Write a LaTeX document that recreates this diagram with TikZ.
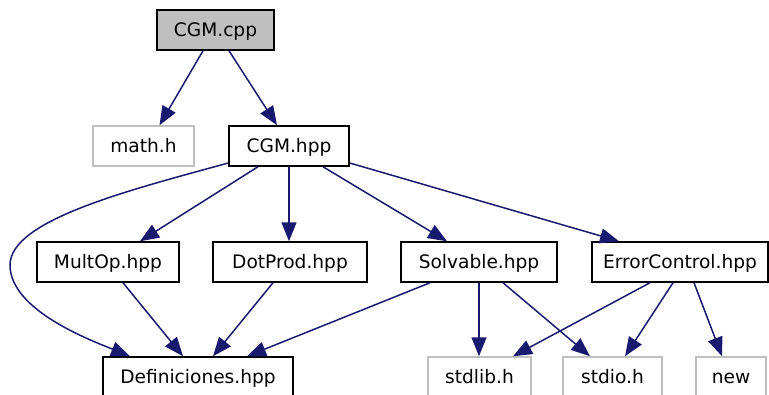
\documentclass[tikz,border=0pt]{standalone}
\usepackage{fontspec}
\setmainfont{DejaVu Sans}
\usetikzlibrary{arrows.meta}
\definecolor{edgeblue}{HTML}{191970}
\definecolor{extgray}{HTML}{BFBFBF}
\begin{document}
\begin{tikzpicture}[x=1pt,y=-1pt,
  file/.style={draw=black,line width=1.5pt,fill=white,minimum height=40pt,inner sep=0pt,
    text height=13.5pt,text depth=0pt,font=\fontsize{18.6}{22}\selectfont},
  mainfile/.style={file,fill=extgray},
  extfile/.style={file,draw=extgray},
  dep/.style={draw=edgeblue,line width=1.5pt,-{Triangle[length=19pt,width=15pt]}}]
\useasboundingbox (0,0) rectangle (769,394);

% files
\node[mainfile,minimum width=117pt] (cpp) at (215.5,30) {CGM.cpp};
\node[extfile,minimum width=101pt] (math) at (143.5,146) {math.h};
\node[file,minimum width=120pt] (hpp) at (289,146) {CGM.hpp};
\node[file,minimum width=142pt] (mult) at (108,262) {MultOp.hpp};
\node[file,minimum width=154pt] (dot) at (290,262) {DotProd.hpp};
\node[file,minimum width=156pt] (solv) at (479,262) {Solvable.hpp};
\node[file,minimum width=176pt] (err) at (680,262) {ErrorControl.hpp};
\node[file,minimum width=190pt] (def) at (198,377) {Definiciones.hpp};
\node[extfile,minimum width=103pt] (stdlib) at (479.5,377) {stdlib.h};
\node[extfile,minimum width=99pt] (stdio) at (612.5,377) {stdio.h};
\node[extfile,minimum width=70pt] (new) at (731,377) {new};

% include dependencies
\draw[dep] ([xshift=-12.5pt]cpp.south) -- ([xshift=16pt]math.north);
\draw[dep] ([xshift=13.5pt]cpp.south) -- ([xshift=-12pt]hpp.north);
\draw[dep] ([yshift=-17pt]hpp.west) .. controls (130,190) and (10,220) .. (10,265)
  .. controls (10,310) and (90,340) .. ([xshift=-68pt]def.north);
\draw[dep] ([xshift=-31pt]hpp.south) -- ([xshift=32pt]mult.north);
\draw[dep] (hpp.south) -- ([xshift=-1pt]dot.north);
\draw[dep] ([xshift=34pt]hpp.south) -- ([xshift=-32pt]solv.north);
\draw[dep] ([yshift=-17pt]hpp.east) -- ([xshift=-61pt]err.north);
\draw[dep] ([xshift=15pt]mult.south) -- ([xshift=-15pt]def.north);
\draw[dep] ([xshift=-17pt]dot.south) -- ([xshift=15pt]def.north);
\draw[dep] ([xshift=-49pt]solv.south) -- ([xshift=49pt]def.north);
\draw[dep] (solv.south) -- ([xshift=-0.5pt]stdlib.north);
\draw[dep] ([xshift=24pt]solv.south) -- ([xshift=-22.5pt]stdio.north);
\draw[dep] ([xshift=-30pt]err.south) -- ([xshift=33.5pt]stdlib.north);
\draw[dep] ([xshift=-7pt]err.south) -- ([xshift=12.5pt]stdio.north);
\draw[dep] ([xshift=14pt]err.south) -- ([xshift=-9pt]new.north);
\end{tikzpicture}
\end{document}
